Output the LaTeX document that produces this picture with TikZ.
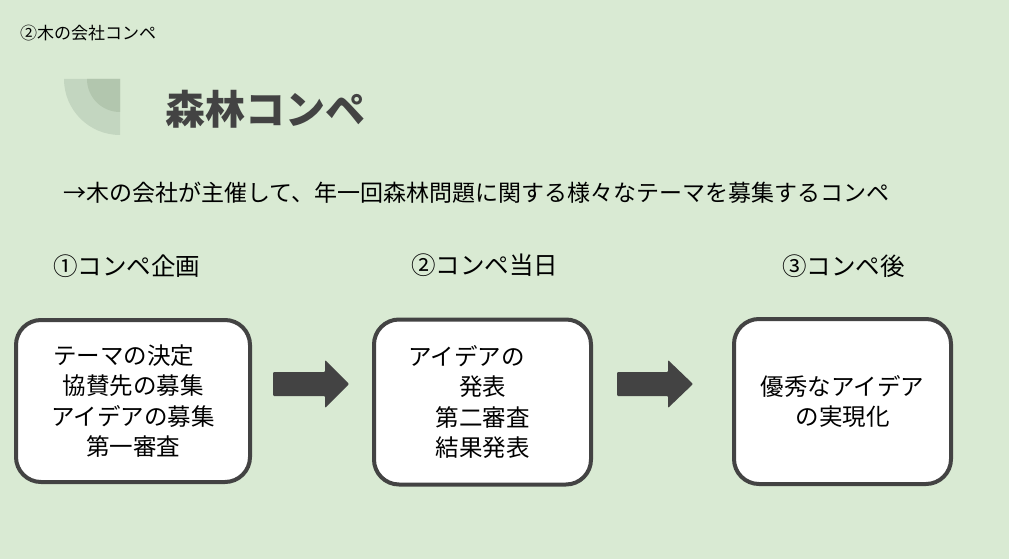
\documentclass[tikz,border=0pt]{standalone}
\usepackage{fontspec}
\setmainfont{Noto Sans CJK JP}
\definecolor{bgc}{HTML}{D9EAD3}
\definecolor{darkc}{HTML}{434343}
\definecolor{iconouter}{HTML}{C3D6C0}
\definecolor{iconinner}{HTML}{B2C6AE}
\tikzset{
  txt/.style={inner sep=0pt, text=black},
  stepbox/.style={draw=darkc, line width=4pt, rounded corners=25pt, fill=white, inner sep=0pt,
    align=center, font=\fontsize{23.5}{30.5}\selectfont, text=black},
  head/.style={txt, anchor=west, font=\fontsize{24.5}{28}\selectfont},
  blockarrow/.style={fill=darkc, rounded corners=1pt},
}
\begin{document}
\begin{tikzpicture}[x=1pt,y=-1pt]
\fill[bgc] (0,0) rectangle (1009,559);
\useasboundingbox (0,0) rectangle (1009,559);
% icon
\fill[iconouter] (120,79) -- (64,79) arc[start angle=180, end angle=90, radius=56] -- cycle;
\fill[iconinner] (120,79) -- (87,79) arc[start angle=180, end angle=90, radius=33] -- cycle;
% texts
\node[txt, anchor=west, font=\fontsize{17}{20}\selectfont] (top) at (20,33) {②木の会社コンペ};
\node[txt, anchor=west, text=darkc, font=\fontsize{40}{44}\selectfont\bfseries] (title) at (165,109) {森林コンペ};
\node[txt, anchor=west, font=\fontsize{23}{26}\selectfont] (sub) at (63,193) {→木の会社が主催して、年一回森林問題に関する様々なテーマを募集するコンペ};
\node[head] (h1) at (53,266) {①コンペ企画};
\node[head] (h2) at (411,265) {②コンペ当日};
\node[head] (h3) at (782,266) {③コンペ後};
% boxes
\node[stepbox, minimum width=234pt, minimum height=162pt] (b1) at (133,401)
  {テーマの決定\rule{19pt}{0pt}\\協賛先の募集\\アイデアの募集\\第一審査};
\node[stepbox, minimum width=217pt, minimum height=165pt] (b2) at (482.5,402)
  {アイデアの\rule{32pt}{0pt}\\発表\\第二審査\\結果発表};
\node[stepbox, minimum width=217pt, minimum height=165pt] (b3) at (842.5,401.5)
  {優秀なアイデア\\の実現化};
% block arrows
\fill[blockarrow] (273,372) -- (325,372) -- (325,360) -- (349,384) -- (325,408) -- (325,396) -- (273,396) -- cycle;
\fill[blockarrow] (617,372) -- (668,372) -- (668,360) -- (693,384) -- (668,408) -- (668,396) -- (617,396) -- cycle;
\end{tikzpicture}
\end{document}
